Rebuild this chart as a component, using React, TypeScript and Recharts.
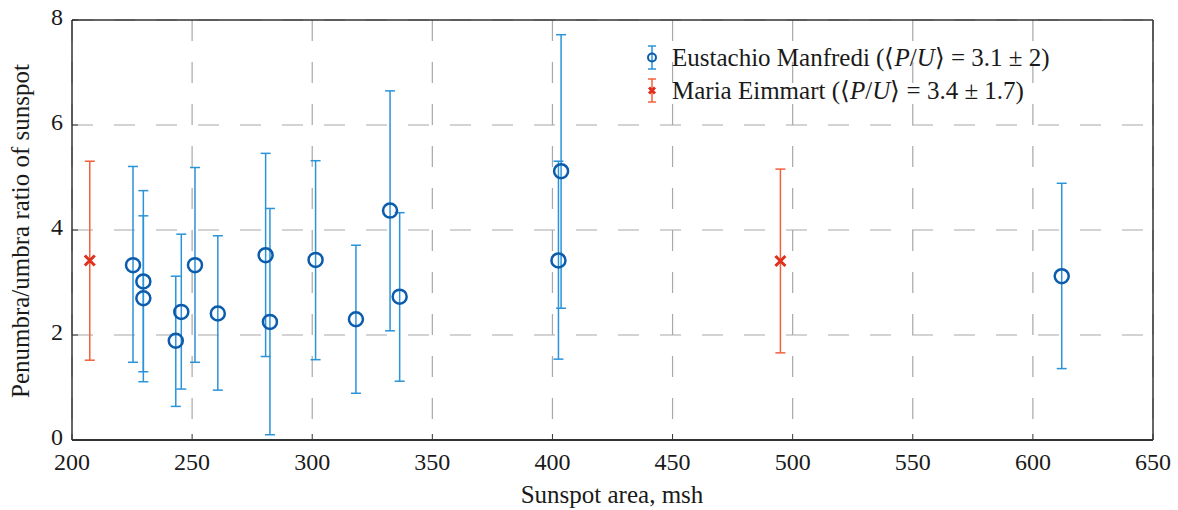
import React from 'react';
import {
    ScatterChart, Scatter, XAxis, YAxis, CartesianGrid, ErrorBar, ReferenceLine,
} from 'recharts';

// Eustachio Manfredi
const manfrediArea = [225.4, 229.7, 229.7, 243.2, 245.5, 251.2, 260.7, 280.6, 282.4, 301.4, 318.2, 332.4, 336.4, 403.6, 402.5, 612.0];
const manfrediRatio = [3.33, 3.02, 2.70, 1.89, 2.44, 3.33, 2.41, 3.52, 2.25, 3.43, 2.30, 4.37, 2.73, 5.12, 3.42, 3.12];
const manfrediLow = [1.48, 1.30, 1.11, 0.64, 0.97, 1.48, 0.95, 1.59, 0.10, 1.53, 0.89, 2.08, 1.12, 2.51, 1.54, 1.36];
const manfrediHigh = [5.21, 4.75, 4.27, 3.12, 3.92, 5.19, 3.89, 5.46, 4.41, 5.32, 3.71, 6.65, 4.33, 7.72, 5.31, 4.89];

// Maria Eimmart
const eimmartArea = [207.4, 494.9];
const eimmartRatio = [3.42, 3.41];
const eimmartLow = [1.52, 1.66];
const eimmartHigh = [5.31, 5.16];

const xTicks = [200, 250, 300, 350, 400, 450, 500, 550, 600, 650];
const yTicks = [0, 2, 4, 6, 8];

const toPoints = (xs: number[], ys: number[], lo: number[], hi: number[]) =>
    xs.map((x, i) => ({ area: x, ratio: ys[i], err: [ys[i] - lo[i], hi[i] - ys[i]] }));

const manfrediData = toPoints(manfrediArea, manfrediRatio, manfrediLow, manfrediHigh);
const eimmartData = toPoints(eimmartArea, eimmartRatio, eimmartLow, eimmartHigh);

const BLUE = '#0b5cad';
const BLUE_BAR = '#2b93d8';
const RED = '#e0301e';
const RED_BAR = '#f2603c';
const FONT = "'Liberation Serif', 'Times New Roman', Tinos, serif";

const Circle = (p: any) => (
    <circle cx={p.cx} cy={p.cy} r={7} fill="none" stroke={BLUE} strokeWidth={2.5} />
);

const Cross = (p: any) => (
    <path d={`M${p.cx - 5},${p.cy - 5}L${p.cx + 5},${p.cy + 5}M${p.cx - 5},${p.cy + 5}L${p.cx + 5},${p.cy - 5}`}
          stroke={RED} strokeWidth={3} fill="none" />
);

const XTick = (p: any) => (
    <text x={p.x} y={p.y + 16} textAnchor="middle" fill="#1a1a1a" fontSize={24} style={{ fontFamily: FONT }}>
        {p.payload.value}
    </text>
);

const YTick = (p: any) => (
    <text x={p.x} y={p.y + 5} textAnchor="end" fill="#1a1a1a" fontSize={24} style={{ fontFamily: FONT }}>
        {p.payload.value}
    </text>
);

const LegendIcon = ({ kind }: { kind: 'circle' | 'cross' }) => {
    const c = kind === 'circle' ? BLUE : RED;
    const bar = kind === 'circle' ? BLUE_BAR : RED_BAR;
    return (
        <svg width={22} height={33} style={{ verticalAlign: 'top' }}>
            <line x1={11} y1={5} x2={11} y2={28} stroke={bar} strokeWidth={1.5} />
            <line x1={7} y1={5} x2={15} y2={5} stroke={bar} strokeWidth={1.5} />
            <line x1={7} y1={28} x2={15} y2={28} stroke={bar} strokeWidth={1.5} />
            {kind === 'circle'
                ? <circle cx={11} cy={16.5} r={4} fill="none" stroke={c} strokeWidth={2} />
                : <path d="M8,13.5L14,19.5M8,19.5L14,13.5" stroke={c} strokeWidth={3} />}
        </svg>
    );
};

export default function App() {
    return (
        <div style={{ position: 'absolute', left: 0, top: 0, width: 1178, height: 510, background: '#fff', fontFamily: FONT }}>
            <ScatterChart width={1178} height={510} margin={{ top: 20, right: 25, left: 22, bottom: 0 }}
                          style={{ fontFamily: FONT }}>
                <CartesianGrid strokeDasharray="21 21" stroke="#a8a8a8" strokeWidth={1.2} />
                <XAxis type="number" dataKey="area" domain={[200, 650]} ticks={xTicks} height={70}
                       tick={XTick} tickSize={-6} tickMargin={20}
                       axisLine={{ stroke: '#333', strokeWidth: 2 }} tickLine={{ stroke: '#333' }} />
                <YAxis type="number" dataKey="ratio" domain={[0, 8]} ticks={yTicks} width={50}
                       tick={YTick} tickSize={-6} tickMargin={15}
                       axisLine={{ stroke: '#333', strokeWidth: 1.5 }} tickLine={{ stroke: '#333' }} />
                <ReferenceLine y={8} stroke="#333" strokeWidth={1.5} />
                <ReferenceLine x={650} stroke="#333" strokeWidth={1.5} />
                <Scatter data={manfrediData} shape={Circle} isAnimationActive={false}>
                    <ErrorBar dataKey="err" direction="y" width={5} stroke={BLUE_BAR} strokeWidth={1.5} isAnimationActive={false} />
                </Scatter>
                <Scatter data={eimmartData} shape={Cross} isAnimationActive={false}>
                    <ErrorBar dataKey="err" direction="y" width={5} stroke={RED_BAR} strokeWidth={1.5} isAnimationActive={false} />
                </Scatter>
            </ScatterChart>

            <div style={{ position: 'absolute', left: 21, top: 231, transform: 'translate(-50%, -50%) rotate(-90deg)',
                whiteSpace: 'nowrap', fontSize: 25, color: '#1a1a1a' }}>
                Penumbra/umbra ratio of sunspot
            </div>
            <div style={{ position: 'absolute', left: 612, top: 495, transform: 'translate(-50%, -50%)',
                whiteSpace: 'nowrap', fontSize: 25, color: '#1a1a1a' }}>
                Sunspot area, msh
            </div>

            <div style={{ position: 'absolute', left: 641, top: 41, fontSize: 25, color: '#1a1a1a', lineHeight: '33px' }}>
                <div style={{ whiteSpace: 'nowrap', height: 33 }}>
                    <LegendIcon kind="circle" />
                    <span style={{ marginLeft: 9 }}>Eustachio Manfredi (⟨<i>P</i>/<i>U</i>⟩ = 3.1 ± 2)</span>
                </div>
                <div style={{ whiteSpace: 'nowrap', height: 33 }}>
                    <LegendIcon kind="cross" />
                    <span style={{ marginLeft: 9 }}>Maria Eimmart (⟨<i>P</i>/<i>U</i>⟩ = 3.4 ± 1.7)</span>
                </div>
            </div>
        </div>
    );
}
